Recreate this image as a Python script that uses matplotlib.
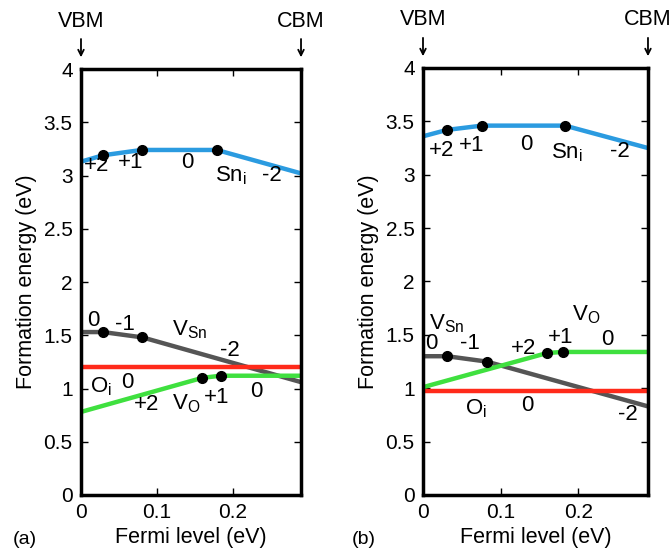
import matplotlib
matplotlib.use("Agg")
import matplotlib.pyplot as plt

plt.rcParams["font.family"] = ["Liberation Sans", "DejaVu Sans"]
plt.rcParams["mathtext.fontset"] = "custom"
plt.rcParams["mathtext.rm"] = "Liberation Sans"
plt.rcParams["mathtext.it"] = "Liberation Sans"

# Fermi level breakpoints (eV) and formation energies (eV), panel (a)
sni_a_x = [0, 0.029, 0.080, 0.179, 0.29]
sni_a_y = [3.13, 3.19, 3.24, 3.24, 3.02]
vsn_a_x = [0, 0.029, 0.081, 0.29]
vsn_a_y = [1.53, 1.53, 1.48, 1.06]
oi_a_x = [0, 0.29]
oi_a_y = [1.20, 1.20]
vo_a_x = [0, 0.160, 0.184, 0.29]
vo_a_y = [0.78, 1.10, 1.12, 1.12]

# panel (b)
sni_b_x = [0, 0.031, 0.076, 0.183, 0.29]
sni_b_y = [3.36, 3.42, 3.46, 3.46, 3.25]
vsn_b_x = [0, 0.031, 0.082, 0.29]
vsn_b_y = [1.30, 1.30, 1.25, 0.83]
oi_b_x = [0, 0.29]
oi_b_y = [0.97, 0.97]
vo_b_x = [0, 0.160, 0.180, 0.29]
vo_b_y = [1.01, 1.33, 1.34, 1.34]

colors = {"sni": "#2b9be0", "vsn": "#555555", "oi": "#ff2a1a", "vo": "#3fe03f"}

# text labels: (x, y, text)
labels_a = [
    (0.021, 3.09, "+2"), (0.066, 3.12, "+1"), (0.140, 3.12, "0"),
    (0.197, 3.00, "Sn$_\\mathregular{i}$"), (0.252, 3.00, "-2"),
    (0.016, 1.64, "0"), (0.058, 1.60, "-1"),
    (0.143, 1.55, "V$_\\mathregular{Sn}$"), (0.196, 1.36, "-2"),
    (0.027, 1.02, "O$_\\mathregular{i}$"), (0.061, 1.06, "0"),
    (0.086, 0.85, "+2"), (0.138, 0.86, "V$_\\mathregular{O}$"),
    (0.179, 0.92, "+1"), (0.231, 0.97, "0"),
]
labels_b = [
    (0.030, 1.60, "V$_\\mathregular{Sn}$"), (0.011, 1.42, "0"), (0.060, 1.42, "-1"),
    (0.024, 3.23, "+2"), (0.063, 3.27, "+1"), (0.133, 3.28, "0"),
    (0.185, 3.21, "Sn$_\\mathregular{i}$"), (0.254, 3.22, "-2"),
    (0.264, 0.75, "-2"),
    (0.068, 0.81, "O$_\\mathregular{i}$"), (0.135, 0.84, "0"),
    (0.129, 1.37, "+2"), (0.178, 1.48, "+1"),
    (0.210, 1.69, "V$_\\mathregular{O}$"), (0.238, 1.46, "0"),
]

fig = plt.figure(figsize=(6.71, 5.50), dpi=100)
ax_a = fig.add_axes([0.1207, 0.100, 0.3279, 0.7745])
ax_b = fig.add_axes([0.6304, 0.100, 0.3353, 0.7764])

panels = [
    (ax_a, "(a)", 13 / 671, labels_a,
     [(sni_a_x, sni_a_y, "sni"), (vsn_a_x, vsn_a_y, "vsn"),
      (oi_a_x, oi_a_y, "oi"), (vo_a_x, vo_a_y, "vo")]),
    (ax_b, "(b)", 352 / 671, labels_b,
     [(sni_b_x, sni_b_y, "sni"), (vsn_b_x, vsn_b_y, "vsn"),
      (oi_b_x, oi_b_y, "oi"), (vo_b_x, vo_b_y, "vo")]),
]

for ax, tag, tag_x, labels, lines in panels:
    for xs, ys, key in lines:
        ax.plot(xs, ys, color=colors[key], lw=3.2, solid_capstyle="butt", zorder=2)
        if len(xs) > 2:
            ax.plot(xs[1:-1], ys[1:-1], "o", color="black", ms=7, zorder=3)
    for x, y, s in labels:
        ax.text(x, y, s, fontsize=16, ha="center", va="center", zorder=4)

    ax.set_xlim(0, 0.29)
    ax.set_ylim(0, 4)
    ax.set_xticks([0, 0.1, 0.2])
    ax.set_xticklabels(["0", "0.1", "0.2"])
    ax.set_yticks([0, 0.5, 1, 1.5, 2, 2.5, 3, 3.5, 4])
    ax.set_yticklabels(["0", "0.5", "1", "1.5", "2", "2.5", "3", "3.5", "4"])
    ax.tick_params(direction="in", top=True, right=True, length=5, width=1,
                   labelsize=15, pad=6)
    for sp in ax.spines.values():
        sp.set_linewidth(2.5)
    ax.set_xlabel("Fermi level (eV)", fontsize=15.5, labelpad=3)
    ax.set_ylabel("Formation energy (eV)", fontsize=15.5, labelpad=5)
    fig.text(tag_x, 1 - 539 / 550, tag, fontsize=14, ha="left", va="center")

    for xf in (0, 1):
        ax.annotate("", xy=(xf, 1.021), xycoords="axes fraction",
                    xytext=(xf, 1.077), textcoords="axes fraction",
                    arrowprops=dict(arrowstyle="->", color="black", lw=1.3),
                    annotation_clip=False)
    ax.text(0, 1.088, "VBM", transform=ax.transAxes, fontsize=15.5,
            ha="center", va="bottom")
    ax.text(1, 1.088, "CBM", transform=ax.transAxes, fontsize=15.5,
            ha="center", va="bottom")

fig.savefig("out.png", dpi=100)
